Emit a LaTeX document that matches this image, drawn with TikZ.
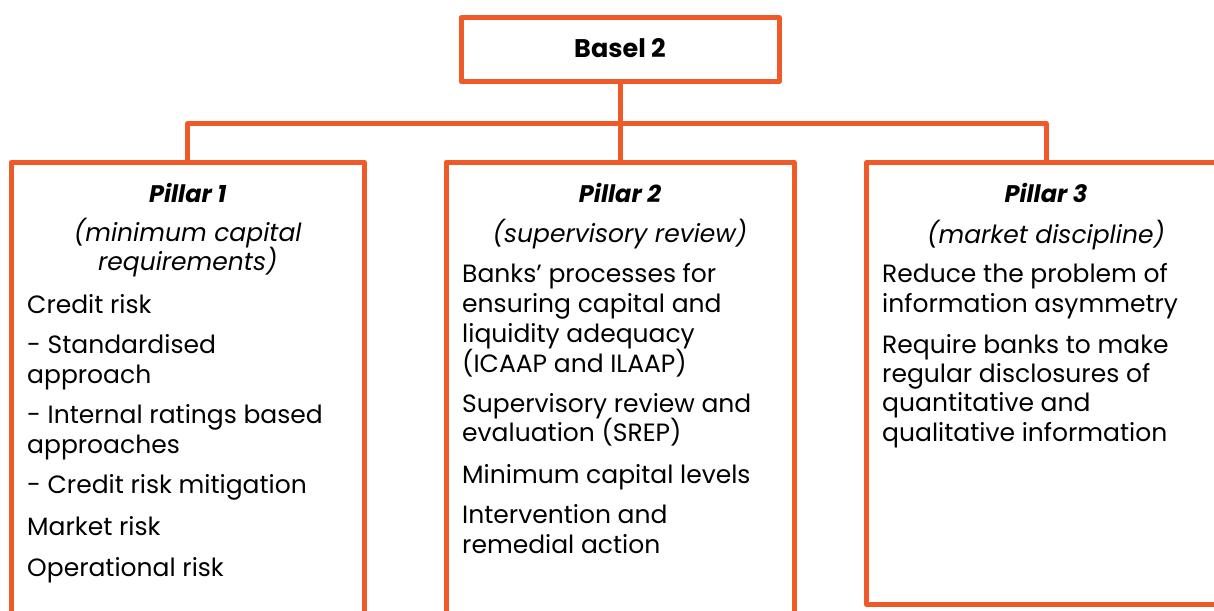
\documentclass[tikz,border=0pt]{standalone}
\usepackage{fontspec}
\setmainfont{Poppins}
\definecolor{brand}{RGB}{240,90,40}
\newcommand{\bodyfont}{\fontsize{25}{30}\selectfont}
\tikzset{
  frame/.style={draw=brand, line width=5pt, line join=round, rectangle, inner sep=0pt, outer sep=0pt, fill=white},
  link/.style={draw=brand, line width=5pt, line join=round},
  txt/.style={anchor=base west, inner sep=0pt, font=\bodyfont, text=black},
  head/.style={anchor=base, inner sep=0pt, font=\fontsize{24}{30}\selectfont\bfseries\itshape, text=black},
  sub/.style={anchor=base, inner sep=0pt, font=\bodyfont\itshape, text=black},
}
\begin{document}
\begin{tikzpicture}[x=1pt,y=-1pt]
\useasboundingbox (0,0) rectangle (1214,610);
\clip (0,0) rectangle (1214,610);
\fill[white] (0,0) rectangle (1214,610);

% boxes
\node[frame, minimum width=318pt, minimum height=63.5pt] (basel) at (620,49.75) {};
\node[frame, anchor=north west, minimum width=353.5pt, minimum height=500pt] (p1) at (11,162.5) {};
\node[frame, anchor=north west, minimum width=348pt, minimum height=500pt] (p2) at (446,162.5) {};
\node[frame, anchor=north west, minimum width=359pt, minimum height=442pt] (p3) at (866.5,162.5) {};
\coordinate (hbar) at (620,123.5);

% connectors
\draw[link] (basel.south) -- (basel.south |- p2.north);
\draw[link] (p1.north) |- (hbar) -| (p3.north);

% title
\node[anchor=base, inner sep=0pt, font=\fontsize{25.5}{30}\selectfont\bfseries] (t0) at (620,58) {Basel 2};

% Pillar 1
\node[head] (h1) at (187.75,202) {Pillar 1};
\node[sub] (s1a) at (187.75,241) {(minimum capital};
\node[sub] (s1b) at (187.75,270) {requirements)};
\node[txt] (a1) at (27,313) {Credit risk};
\node[txt] (a2) at (27,353) {- Standardised};
\node[txt] (a3) at (27,383) {approach};
\node[txt] (a4) at (27,423) {- Internal ratings based};
\node[txt] (a5) at (27,453) {approaches};
\node[txt] (a6) at (27,493) {- Credit risk mitigation};
\node[txt] (a7) at (27,535) {Market risk};
\node[txt] (a8) at (27,576) {Operational risk};

% Pillar 2
\node[head] (h2) at (620,202) {Pillar 2};
\node[sub] (s2) at (620,242) {(supervisory review)};
\node[txt] (b1) at (462,282) {Banks{\char"0027} processes for};
\node[txt] (b2) at (462,312) {ensuring capital and};
\node[txt] (b3) at (462,342) {liquidity adequacy};
\node[txt] (b4) at (462,372) {(ICAAP and ILAAP)};
\node[txt] (b5) at (462,412) {Supervisory review and};
\node[txt] (b6) at (462,441) {evaluation (SREP)};
\node[txt] (b7) at (462,483) {Minimum capital levels};
\node[txt] (b8) at (462,523) {Intervention and};
\node[txt] (b9) at (462,553) {remedial action};

% Pillar 3
\node[head] (h3) at (1046,202) {Pillar 3};
\node[sub] (s3) at (1046,243) {(market discipline)};
\node[txt] (c1) at (882,282) {Reduce the problem of};
\node[txt] (c2) at (882,312) {information asymmetry};
\node[txt] (c3) at (882,353) {Require banks to make};
\node[txt] (c4) at (882,382) {regular disclosures of};
\node[txt] (c5) at (882,411) {quantitative and};
\node[txt] (c6) at (882,441) {qualitative information};
\end{tikzpicture}
\end{document}
